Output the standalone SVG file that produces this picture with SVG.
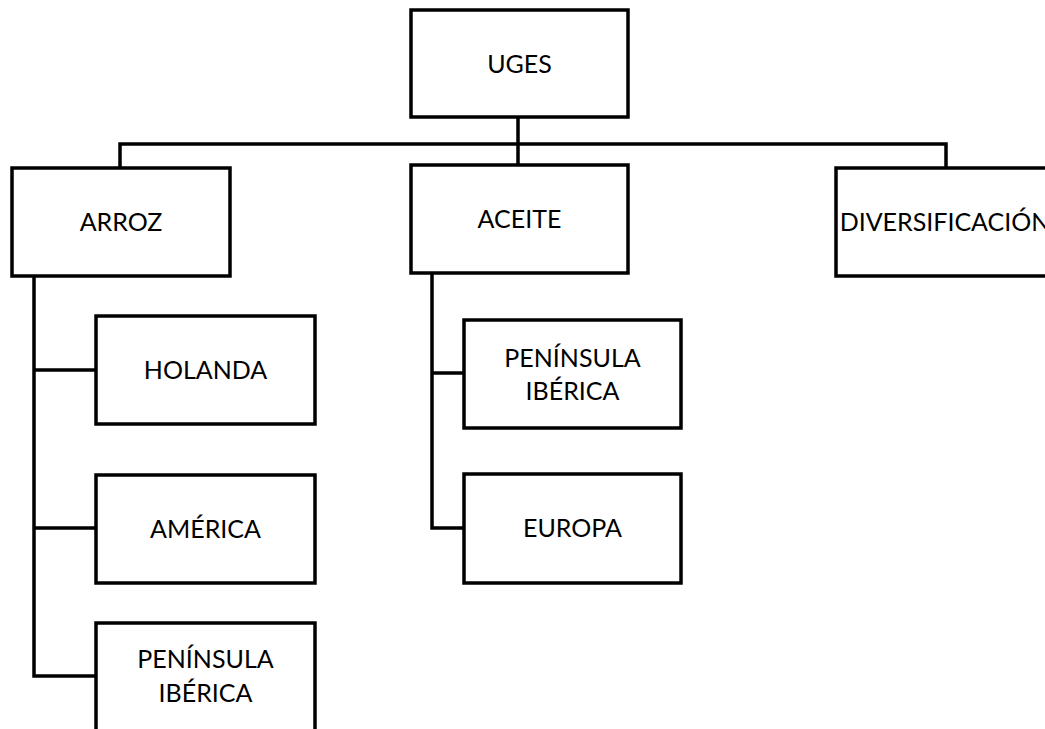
<svg xmlns="http://www.w3.org/2000/svg" width="1045" height="729" viewBox="0 0 1045 729">
<style>
.box{fill:#fff;stroke:#000;stroke-width:3.5}
.lbl{font-family:Lato,"Liberation Sans",sans-serif;font-size:25px;fill:#000;text-anchor:middle}
.con{fill:none;stroke:#000;stroke-width:3.5}
</style>
<rect width="1045" height="729" fill="#fff"/>
<g id="connectors">
<path class="con" d="M518 117V165M120 168V144H946V168"/>
<path class="con" d="M34 276V676H96M34 370H96M34 528H96"/>
<path class="con" d="M432 273V528H464M432 373H464"/>
</g>
<g id="uges"><rect class="box" x="411" y="10" width="217" height="107"/><text class="lbl" x="519.5" y="73">UGES</text></g>
<g id="arroz"><rect class="box" x="12" y="168" width="218" height="108"/><text class="lbl" x="121" y="231">ARROZ</text></g>
<g id="aceite"><rect class="box" x="411" y="165" width="217" height="108"/><text class="lbl" x="519.5" y="228">ACEITE</text></g>
<g id="diversificacion"><rect class="box" x="836" y="168" width="218" height="108"/><text class="lbl" x="945" y="231">DIVERSIFICACIÓN</text></g>
<g id="holanda"><rect class="box" x="96" y="316" width="219" height="108"/><text class="lbl" x="205.5" y="379">HOLANDA</text></g>
<g id="america"><rect class="box" x="96" y="475" width="219" height="108"/><text class="lbl" x="205.5" y="538">AMÉRICA</text></g>
<g id="peninsula-arroz"><rect class="box" x="96" y="623" width="219" height="120"/><text class="lbl" x="205.5" y="668">PENÍNSULA</text><text class="lbl" x="205.5" y="702">IBÉRICA</text></g>
<g id="peninsula-aceite"><rect class="box" x="464" y="320" width="217" height="108"/><text class="lbl" x="572.5" y="367">PENÍNSULA</text><text class="lbl" x="572.5" y="400">IBÉRICA</text></g>
<g id="europa"><rect class="box" x="464" y="474" width="217" height="109"/><text class="lbl" x="572.5" y="537">EUROPA</text></g>
</svg>
